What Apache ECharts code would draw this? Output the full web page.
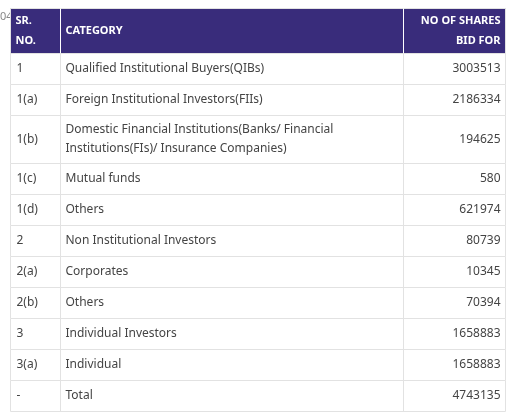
<!DOCTYPE html>
<html><head><meta charset="utf-8">
<script src="https://cdn.jsdelivr.net/npm/echarts@6/dist/echarts.min.js"></script>
<style>html,body{margin:0;padding:0;background:#fff}#c{width:525px;height:415px}</style>
</head><body><div id="c"></div>
<script>
const headers = ["SR.\nNO.", "CATEGORY", "NO OF SHARES\nBID FOR"];
const srNo = ["1","1(a)","1(b)","1(c)","1(d)","2","2(a)","2(b)","3","3(a)","-"];
const categories = ["Qualified Institutional Buyers(QIBs)","Foreign Institutional Investors(FIIs)","Domestic Financial Institutions(Banks/ Financial\nInstitutions(FIs)/ Insurance Companies)","Mutual funds","Others","Non Institutional Investors","Corporates","Others","Individual Investors","Individual","Total"];
const shares = [3003513,2186334,194625,580,621974,80739,10345,70394,1658883,1658883,4743135];

const X0=10.5, X1=60.5, X2=403.5, X3=505.5, HEAD_TOP=8.5, HEAD_H=45, ROW_H=31, ROW_H2=48;
const heights = categories.map(c => c.includes("\n") ? ROW_H2 : ROW_H);
const tops = []; let acc = HEAD_TOP + HEAD_H;
heights.forEach(h => { tops.push(acc); acc += h; });
const FONT = "'Noto Sans', 'Open Sans', sans-serif";

const chart = echarts.init(document.getElementById('c'));
chart.setOption({
  animation:false,
  grid:{left:0,right:0,top:0,bottom:0},
  xAxis:{type:'value',min:0,max:525,show:false},
  yAxis:{type:'value',min:0,max:415,inverse:true,show:false},
  graphic:[{type:'text',left:0,top:11,style:{text:'04',fill:'#888',font:'11px '+FONT}}],
  series:[{
    type:'custom',
    data: [-1].concat(srNo.map((_,i)=>i)),
    renderItem:function(params, api){
      const i = api.value(0);
      const lt = (x,y)=>api.coord([x,y]);
      const children=[];
      if(i<0){
        const a=lt(X0,HEAD_TOP), b=lt(X3,HEAD_TOP+HEAD_H);
        children.push({type:'rect',shape:{x:a[0],y:a[1],width:b[0]-a[0],height:b[1]-a[1]},style:{fill:'#392c7b',stroke:'#e2e2e2',lineWidth:1}});
        [X1,X2].forEach(x=>{const p=lt(x,HEAD_TOP),q=lt(x,HEAD_TOP+HEAD_H);children.push({type:'line',shape:{x1:p[0],y1:p[1],x2:q[0],y2:q[1]},style:{stroke:'#ffffff',lineWidth:1}});});
        const cy=lt(0,HEAD_TOP+HEAD_H/2)[1];
        const f='bold 11px '+FONT;
        children.push({type:'text',style:{x:lt(X0+5,0)[0],y:cy,text:headers[0],fill:'#fff',font:f,verticalAlign:'middle',lineHeight:20}});
        children.push({type:'text',style:{x:lt(X1+5,0)[0],y:cy,text:headers[1],fill:'#fff',font:f,verticalAlign:'middle'}});
        children.push({type:'text',style:{x:lt(X3-5,0)[0],y:cy,text:headers[2],fill:'#fff',font:f,verticalAlign:'middle',align:'right',lineHeight:20}});
      } else {
        const t=tops[i], h=heights[i];
        const a=lt(X0,t), b=lt(X3,t+h);
        children.push({type:'rect',shape:{x:a[0],y:a[1],width:b[0]-a[0],height:b[1]-a[1]},style:{fill:'#fff',stroke:'#e2e2e2',lineWidth:1}});
        [X1,X2].forEach(x=>{const p=lt(x,t),q=lt(x,t+h);children.push({type:'line',shape:{x1:p[0],y1:p[1],x2:q[0],y2:q[1]},style:{stroke:'#e2e2e2',lineWidth:1}});});
        const cy=lt(0,t+h/2)[1];
        const f='12px '+FONT;
        children.push({type:'text',style:{x:lt(X0+6,0)[0],y:cy,text:srNo[i],fill:'#444',font:f,verticalAlign:'middle'}});
        children.push({type:'text',style:{x:lt(X1+5,0)[0],y:cy,text:categories[i],fill:'#444',font:f,verticalAlign:'middle',lineHeight:19}});
        children.push({type:'text',style:{x:lt(X3-5,0)[0],y:cy,text:String(shares[i]),fill:'#444',font:f,verticalAlign:'middle',align:'right'}});
      }
      return {type:'group',children};
    }
  }]
});
</script></body></html>
